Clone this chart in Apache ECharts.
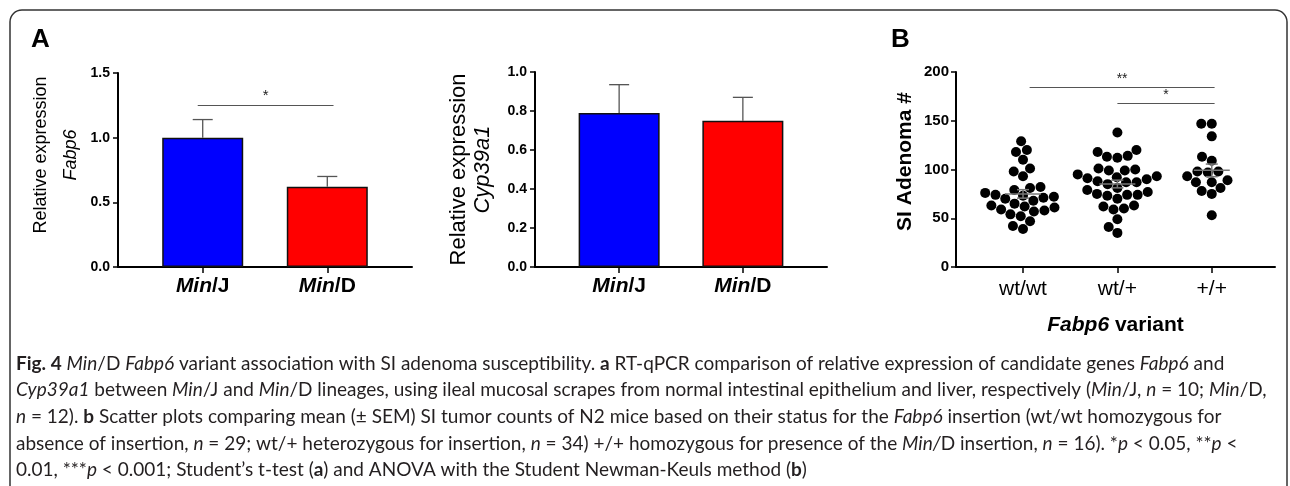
<!DOCTYPE html>
<html>
<head>
<meta charset="utf-8">
<script src="https://cdn.jsdelivr.net/npm/echarts@6/dist/echarts.min.js"></script>
<style>
html,body{margin:0;padding:0;background:#fff;}
#chart{width:1290px;height:486px;}
</style>
</head>
<body>
<div id="chart"></div>
<script>
// ---------- data ----------
const strainCats = ['Min/J', 'Min/D'];
const fabp6Mean = [1.00, 0.62];
const fabp6Sem = [0.14, 0.08];
const cypMean = [0.79, 0.75];
const cypSem = [0.145, 0.12];
const fabp6Ticks = [0, 0.5, 1.0, 1.5];
const cypTicks = [0, 0.2, 0.4, 0.6, 0.8, 1.0];
const genoCats = ['wt/wt', 'wt/+', '+/+'];
const adenomaTicks = [0, 50, 100, 150, 200];
const wtwt = [129, 120, 118, 110, 101, 98, 93, 82, 81, 79, 76, 74, 73, 72, 71, 70, 68, 65, 63, 62, 61, 59, 58, 57, 54, 52, 47, 42, 39];
const wtplus = [138, 120, 118, 114, 113, 112, 101, 100, 99, 99, 95, 93, 92, 91, 90, 88, 87, 87, 85, 81, 79, 77, 75, 74, 74, 73, 70, 63, 62, 60, 59, 49, 41, 35];
const plusplus = [147, 147, 134, 113, 109, 98, 98, 97, 93, 89, 87, 87, 81, 78, 75, 53];
const captionLines = [
  '{b|Fig. 4} {i|Min}/D {i|Fabp6} variant association with SI adenoma susceptibility. {b|a} RT-qPCR comparison of relative expression of candidate genes {i|Fabp6} and',
  '{i|Cyp39a1} between {i|Min}/J and {i|Min}/D lineages, using ileal mucosal scrapes from normal intestinal epithelium and liver, respectively ({i|Min}/J, {i|n} = 10; {i|Min}/D,',
  '{i|n} = 12). {b|b} Scatter plots comparing mean (± SEM) SI tumor counts of N2 mice based on their status for the {i|Fabp6} insertion (wt/wt homozygous for',
  'absence of insertion, {i|n} = 29; wt/+ heterozygous for insertion, {i|n} = 34) +/+ homozygous for presence of the {i|Min/}D insertion, {i|n} = 16). *{i|p} < 0.05, **{i|p} <',
  '0.01, ***{i|p} < 0.001; Student\u2019s t-test ({b|a}) and ANOVA with the Student Newman-Keuls method ({b|b})'
];

// ---------- helpers ----------
const groups = [wtwt, wtplus, plusplus];
function mean(a){ return a.reduce((s,v)=>s+v,0)/a.length; }
function sem(a){ const m = mean(a); const v = a.reduce((s,x)=>s+(x-m)*(x-m),0)/(a.length-1); return Math.sqrt(v/a.length); }

const AX = 'Liberation Sans';
const CAP = 'Lato';
const axisCommon = {
  axisLine: { show: true, onZero: false, lineStyle: { color: '#000', width: 2 } },
  axisTick: { show: true, inside: false, length: 5, lineStyle: { color: '#000', width: 1.5 } },
  splitLine: { show: false }
};

// caption font size chosen so the longest line fills the caption width
function measureRich(line, size, fam) {
  const ctx = document.createElement('canvas').getContext('2d');
  const re = /\{(\w)\|([^}]*)\}|([^{]+)/g;
  let w = 0, m;
  while ((m = re.exec(line))) {
    let st = '', txt;
    if (m[1]) { txt = m[2]; st = m[1] === 'b' ? 'bold ' : 'italic '; } else { txt = m[3]; }
    ctx.font = st + size + 'px "' + fam + '"';
    w += ctx.measureText(txt).width;
  }
  return w;
}
const capWidth = 1252;
const capSize = Math.round(17 * capWidth / measureRich(captionLines[1], 17, CAP) * 10) / 10;
const capLH = 26.7;

function yAxisBar(gridIndex, max, interval, nameRich, gap, pad, fs, lh) {
  return Object.assign({}, JSON.parse(JSON.stringify(axisCommon)), {
    type: 'value', gridIndex, min: 0, max, interval,
    axisLabel: { fontFamily: AX, fontWeight: 'bold', fontSize: 14, color: '#000', margin: 8,
      formatter: v => v.toFixed(1) },
    name: nameRich, nameLocation: 'middle', nameRotate: 90, nameGap: gap,
    nameTextStyle: { fontFamily: AX, fontSize: fs, color: '#000', lineHeight: lh, padding: pad,
      rich: { i: { fontFamily: AX, fontSize: fs, fontStyle: 'italic', color: '#000', lineHeight: lh } } }
  });
}
function xAxisBar(gridIndex) {
  return Object.assign({}, JSON.parse(JSON.stringify(axisCommon)), {
    type: 'value', gridIndex, min: -0.68, max: 1.68,
    axisTick: { show: true, customValues: [0, 1], length: 6, lineStyle: { color: '#000', width: 1.5 } },
    axisLabel: { customValues: [0, 1], margin: 9, fontFamily: AX, fontWeight: 'bold', fontSize: 21, color: '#000',
      formatter: v => { const s = strainCats[Math.round(v)]; const p = s.split('/'); return '{i|' + p[0] + '}/' + p[1]; },
      rich: { i: { fontFamily: AX, fontWeight: 'bold', fontStyle: 'italic', fontSize: 21, color: '#000' } } }
  });
}
function barSeries(idx, means) {
  const colors = ['#0000ff', '#ff0000'];
  return {
    type: 'bar', xAxisIndex: idx, yAxisIndex: idx, barWidth: 81,
    data: means.map((m, i) => ({ value: [i, m], itemStyle: { color: colors[i] } })),
    itemStyle: { borderColor: '#111', borderWidth: 1.5 },
    silent: true, z: 2
  };
}
function errSeries(idx, means, sems, sig) {
  const s = {
    type: 'custom', xAxisIndex: idx, yAxisIndex: idx, z: 3, silent: true,
    data: means.map((m, i) => [i, m, sems[i]]),
    renderItem: (params, api) => {
      const x = api.value(0), m = api.value(1), e = api.value(2);
      const b = api.coord([x, m]), t = api.coord([x, m + e]);
      const st = { stroke: '#555', lineWidth: 1.3 };
      return { type: 'group', children: [
        { type: 'line', shape: { x1: b[0], y1: b[1], x2: t[0], y2: t[1] }, style: st },
        { type: 'line', shape: { x1: t[0] - 10, y1: t[1], x2: t[0] + 10, y2: t[1] }, style: st }
      ] };
    }
  };
  if (sig) {
    s.markLine = { silent: true, symbol: 'none', animation: false,
      lineStyle: { color: '#555', width: 1.2, type: 'solid' },
      label: { show: true, position: 'middle', formatter: sig.label, fontSize: 15, color: '#222', distance: 2 },
      data: [[{ coord: [sig.x1, sig.y] }, { coord: [sig.x2, sig.y] }]] };
  }
  return s;
}

// ---------- option ----------
const titles = [
  { text: 'A', left: 31, top: 27, padding: 0, textStyle: { fontFamily: AX, fontSize: 26, fontWeight: 'bold', color: '#000' } },
  { text: 'B', left: 891, top: 27, padding: 0, textStyle: { fontFamily: AX, fontSize: 26, fontWeight: 'bold', color: '#000' } }
];
const capCenter0 = 364;
captionLines.forEach((t, k) => {
  titles.push({ text: t, left: 16, top: Math.round(capCenter0 + k * capLH - capLH / 2), padding: 0,
    textStyle: { fontFamily: CAP, fontSize: capSize, fontWeight: 'normal', color: '#231f20', lineHeight: capLH,
      rich: {
        b: { fontFamily: CAP, fontSize: capSize, fontWeight: 'bold', color: '#231f20', lineHeight: capLH },
        i: { fontFamily: CAP, fontSize: capSize, fontWeight: 'normal', fontStyle: 'italic', color: '#231f20', lineHeight: capLH }
      } } });
});

const option = {
  backgroundColor: '#fff',
  animation: false,
  title: titles,
  graphic: [{ type: 'rect', shape: { x: 10, y: 10, width: 1277, height: 490, r: 12 },
    style: { fill: 'none', stroke: '#333', lineWidth: 1.5 }, silent: true, z: -10 }],
  grid: [
    { left: 118, top: 73, width: 294, height: 194 },
    { left: 535, top: 72, width: 292, height: 195 },
    { left: 956, top: 72, width: 319, height: 195 }
  ],
  xAxis: [
    xAxisBar(0),
    xAxisBar(1),
    Object.assign({}, JSON.parse(JSON.stringify(axisCommon)), {
      type: 'value', gridIndex: 2, min: -0.71, max: 2.67,
      axisTick: { show: true, customValues: [0, 1, 2], length: 6, lineStyle: { color: '#000', width: 1.5 } },
      axisLabel: { customValues: [0, 1, 2], margin: 12, fontFamily: AX, fontSize: 21, color: '#000',
        formatter: v => genoCats[Math.round(v)] },
      name: '{i|Fabp6} variant', nameLocation: 'middle', nameGap: 48,
      nameTextStyle: { fontFamily: AX, fontSize: 21, fontWeight: 'bold', color: '#000',
        rich: { i: { fontFamily: AX, fontSize: 21, fontWeight: 'bold', fontStyle: 'italic', color: '#000' } } }
    })
  ],
  yAxis: [
    yAxisBar(0, 1.5, 0.5, 'Relative expression\n{i|Fabp6}', 32, [0, 0, 0, 30], 18, 30),
    yAxisBar(1, 1.0, 0.2, 'Relative expression\n{i|Cyp39a1}', 40, [0, 0, 0, 0], 22, 24),
    Object.assign({}, JSON.parse(JSON.stringify(axisCommon)), {
      type: 'value', gridIndex: 2, min: 0, max: 200, interval: 50,
      axisLabel: { fontFamily: AX, fontWeight: 'bold', fontSize: 15, color: '#000', margin: 7 },
      name: 'SI Adenoma #', nameLocation: 'middle', nameRotate: 90, nameGap: 40,
      nameTextStyle: { fontFamily: AX, fontSize: 21, fontWeight: 'bold', color: '#000', padding: [0, 0, 0, 16] }
    })
  ],
  series: [
    barSeries(0, fabp6Mean),
    errSeries(0, fabp6Mean, fabp6Sem, { x1: -0.04, x2: 1.05, y: 1.25, label: '*' }),
    barSeries(1, cypMean),
    errSeries(1, cypMean, cypSem, null),
    {
      id: 'dots', type: 'scatter', xAxisIndex: 2, yAxisIndex: 2, symbol: 'circle', symbolSize: 10,
      itemStyle: { color: '#000', opacity: 1 }, silent: true, z: 2,
      data: [],
      markLine: { silent: true, symbol: 'none', animation: false,
        lineStyle: { color: '#555', width: 1.2, type: 'solid' },
        label: { show: true, position: 'middle', fontSize: 14, color: '#222', distance: 1 },
        data: [
          [{ coord: [0.07, 184], label: { formatter: '**' } }, { coord: [2.03, 184] }],
          [{ coord: [1.0, 168], label: { formatter: '*' } }, { coord: [2.03, 168] }]
        ] }
    },
    {
      type: 'custom', xAxisIndex: 2, yAxisIndex: 2, z: 4, silent: true,
      data: groups.map((g, i) => [i, mean(g), sem(g)]),
      renderItem: (params, api) => {
        const x = api.value(0), m = api.value(1), e = api.value(2);
        const c = api.coord([x, m]), t = api.coord([x, m + e]), b = api.coord([x, m - e]);
        const st = { stroke: '#777', lineWidth: 1.5 };
        return { type: 'group', children: [
          { type: 'line', shape: { x1: c[0] - 18, y1: c[1], x2: c[0] + 18, y2: c[1] }, style: st },
          { type: 'line', shape: { x1: c[0], y1: t[1], x2: c[0], y2: b[1] }, style: st },
          { type: 'line', shape: { x1: c[0] - 6, y1: t[1], x2: c[0] + 6, y2: t[1] }, style: st },
          { type: 'line', shape: { x1: c[0] - 6, y1: b[1], x2: c[0] + 6, y2: b[1] }, style: st }
        ] };
      }
    }
  ]
};

const chart = echarts.init(document.getElementById('chart'), null, { renderer: 'canvas' });
chart.setOption(option);

// beeswarm layout of the dots, computed in pixel space through the axes
function swarm(values, d) {
  const finder = { xAxisIndex: 2, yAxisIndex: 2 };
  const order = values.map((v, i) => i).sort((a, b) => values[a] - values[b]);
  const placed = [], out = new Array(values.length);
  for (const i of order) {
    const y = chart.convertToPixel(finder, [0, values[i]])[1];
    const forb = [];
    for (const p of placed) {
      const dy = Math.abs(p.y - y);
      if (dy < d) { const dx = Math.sqrt(d * d - dy * dy); forb.push([p.x - dx, p.x + dx]); }
    }
    const cands = [0];
    forb.forEach(f => cands.push(f[0], f[1]));
    cands.sort((a, b) => Math.abs(a) - Math.abs(b));
    let x = 0;
    for (const c of cands) {
      if (forb.every(f => c <= f[0] + 1e-6 || c >= f[1] - 1e-6)) { x = c; break; }
    }
    placed.push({ x, y }); out[i] = x;
  }
  return out;
}
const finderB = { xAxisIndex: 2, yAxisIndex: 2 };
const pxPerUnit = chart.convertToPixel(finderB, [1, 0])[0] - chart.convertToPixel(finderB, [0, 0])[0];
const dots = [];
groups.forEach((g, gi) => {
  const offs = swarm(g, 10.5);
  g.forEach((v, k) => dots.push([gi + offs[k] / pxPerUnit, v]));
});
chart.setOption({ series: [{ id: 'dots', data: dots }] });
</script>
</body>
</html>
